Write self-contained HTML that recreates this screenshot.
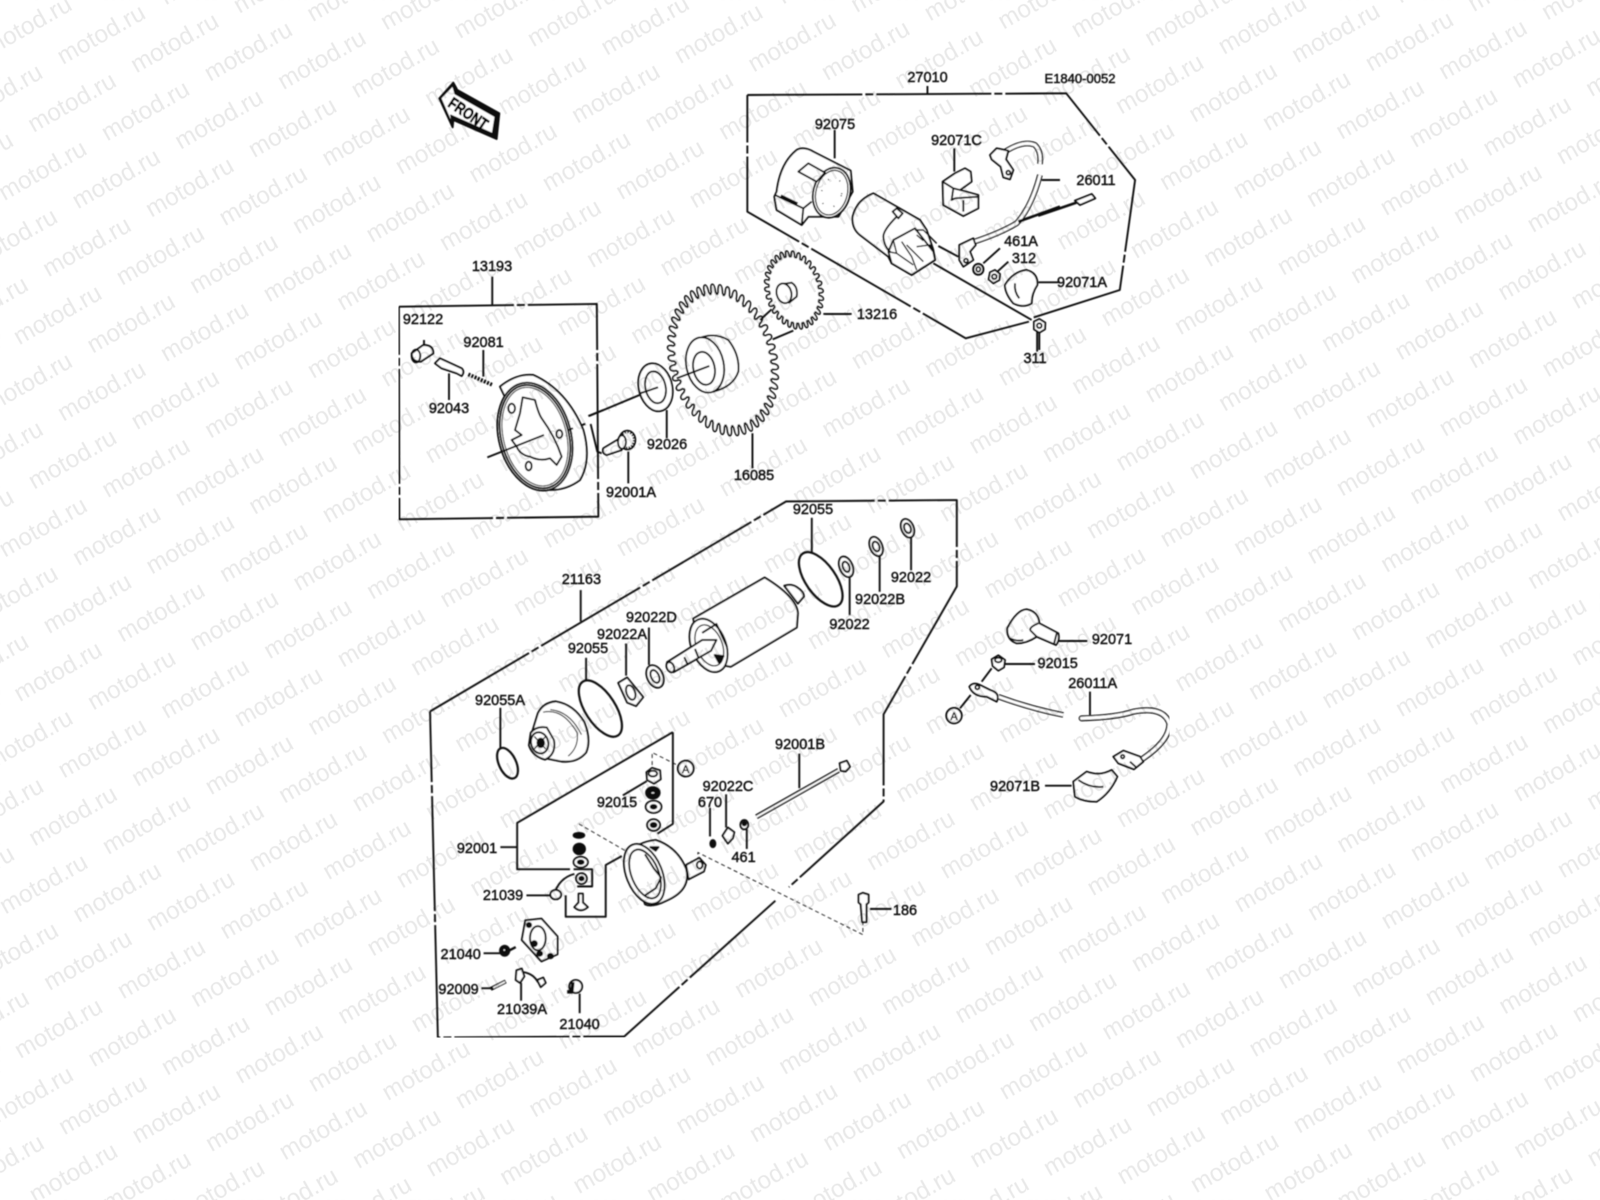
<!DOCTYPE html>
<html><head><meta charset="utf-8"><style>
html,body{margin:0;padding:0;background:#fff;width:1600px;height:1200px;overflow:hidden}
svg{display:block;overflow:hidden}
.g *{vector-effect:non-scaling-stroke}
.g{fill:none;stroke:#111;stroke-width:1.9;stroke-linejoin:round}
.f{fill:#fff}
.k{fill:#111}
.d{stroke-dasharray:115 3 8 3;stroke-width:1.9}
.t{stroke-dasharray:4 3;stroke-width:.9}
.lab text{font-family:"Liberation Sans",sans-serif;font-size:14.5px;fill:#111;stroke:#111;stroke-width:.45;text-anchor:middle}
#w{font-family:"Liberation Sans",sans-serif;font-size:24.5px;fill:#000}
</style></head><body>
<svg width="1600" height="1200" viewBox="0 0 1600 1200" xmlns="http://www.w3.org/2000/svg">
<rect width="1600" height="1200" fill="#fff"/>
<defs>
<filter id="b" x="0" y="0" width="1" height="1" filterUnits="objectBoundingBox"><feGaussianBlur stdDeviation=".4"/></filter>
<text id="w" transform="translate(63 65) rotate(-29.5)">motod.ru</text>
<g id="a"><use href="#w"/><use href="#w" transform="translate(73.5 8.4)"/><use href="#w" transform="translate(147 16.8)"/><use href="#w" transform="translate(220.5 25.2)"/><use href="#w" transform="translate(294 33.6)"/></g>
<g id="r"><use href="#a" transform="translate(-588 -67.2)"/><use href="#a" transform="translate(-220.5 -25.2)"/><use href="#a" transform="translate(147 16.8)"/><use href="#a" transform="translate(514.5 58.8)"/><use href="#a" transform="translate(882 100.8)"/><use href="#a" transform="translate(1249.5 142.8)"/><use href="#a" transform="translate(1617 184.8)"/><use href="#a" transform="translate(1984.5 226.8)"/></g>
<pattern id="wm" patternUnits="userSpaceOnUse" x="0" y="0" width="1600" height="1200">
<g opacity=".09">
<use href="#r" transform="translate(146.5 -340)"/><use href="#r" transform="translate(117.2 -272)"/><use href="#r" transform="translate(87.9 -204)"/><use href="#r" transform="translate(58.6 -136)"/><use href="#r" transform="translate(29.3 -68)"/><use href="#r"/>
<use href="#r" transform="translate(-29.3 68)"/><use href="#r" transform="translate(-58.6 136)"/><use href="#r" transform="translate(-87.9 204)"/><use href="#r" transform="translate(-117.2 272)"/><use href="#r" transform="translate(-146.5 340)"/><use href="#r" transform="translate(-175.8 408)"/>
<use href="#r" transform="translate(-205.1 476)"/><use href="#r" transform="translate(-234.4 544)"/><use href="#r" transform="translate(-263.7 612)"/><use href="#r" transform="translate(-293 680)"/><use href="#r" transform="translate(-322.3 748)"/><use href="#r" transform="translate(-351.6 816)"/>
<use href="#r" transform="translate(-380.9 884)"/><use href="#r" transform="translate(-410.2 952)"/><use href="#r" transform="translate(-439.5 1020)"/><use href="#r" transform="translate(-468.8 1088)"/><use href="#r" transform="translate(-498.1 1156)"/>
</g>
</pattern>
<path id="t1" vector-effect="non-scaling-stroke" fill="#fff" stroke="#111" stroke-width="1.7" d="M92,-6.4 L96,-4 Q107,-4 107,0 Q107,4 96,4 L92,6.4"/>
<g id="t5"><use href="#t1"/><use href="#t1" transform="rotate(8)"/><use href="#t1" transform="rotate(16)"/><use href="#t1" transform="rotate(24)"/><use href="#t1" transform="rotate(32)"/></g>
<path id="t2" vector-effect="non-scaling-stroke" fill="#fff" stroke="#111" stroke-width="1.7" d="M90,-9.4 L93,-6 Q108,-6 108,0 Q108,6 93,6 L90,9.4"/>
<g id="t6"><use href="#t2"/><use href="#t2" transform="rotate(12)"/><use href="#t2" transform="rotate(24)"/><use href="#t2" transform="rotate(36)"/><use href="#t2" transform="rotate(48)"/></g>
</defs>

<g filter="url(#b)">
<!-- FRONT arrow -->
<g class="g" transform="translate(400 70) scale(.3333)">
<path class="k" d="M160,38 L172,60 L298,130 L290,207 L160,150 L158,172 L118,85Z"/>
<path class="f" stroke-width="1" d="M158,48 L165,72 L285,140 L277,190 L152,135 L155,158 L123,85Z"/>
</g>
<text transform="translate(468.3 113.5) rotate(34)" y="5.5" text-anchor="middle" textLength="44" lengthAdjust="spacingAndGlyphs" style="font-family:'Liberation Sans',sans-serif;font-size:16px;font-weight:bold;fill:#000;stroke:#000;stroke-width:.7">FRONT</text>

<!-- box outlines + far leaders -->
<g class="g" transform="translate(380 50) scale(.5102 .3333)">
<path class="d" d="M720,135 L1345,130 L1480,390 L1450,720 L1280,803"/>
<path class="d" d="M1272,815 L1148,865 L720,485 L720,135"/>
<path d="M1073,108 L1073,133"/>
<path class="d" d="M37,770 L425,762 L428,1400 L38,1408 L37,770"/>
<path d="M220,680 L220,768 M562,1080 L562,1165 M730,1150 L730,1255"/>
<path d="M410,1098 L545,1012 M580,985 L612,967"/>
<ellipse class="f" cx="540" cy="1012" rx="33" ry="72" transform="rotate(-6 540 1012)"/>
<ellipse cx="540" cy="1012" rx="20" ry="48" transform="rotate(-6 540 1012)"/>
<path d="M510,1030 L545,1012"/>
</g>

<!-- coil, solenoid, boots -->
<g class="g" transform="translate(760 120) scale(.3333)">
<path d="M224,30 L224,115 M583,85 L583,155 M845,180 L900,180 M720,385 L670,430 M745,425 L712,455 M835,487 L900,487 M535,378 L595,410 M520,430 L815,600 M190,582 L275,582"/>
<path class="f" d="M50,215 Q60,130 110,90 Q130,78 160,95 L272,152 L278,215 L235,290 L180,290 L145,290 L125,315 L50,270 L43,230Z"/>
<ellipse class="f" cx="215" cy="218" rx="55" ry="76" transform="rotate(15 215 218)"/>
<ellipse cx="215" cy="218" rx="47" ry="68" stroke-width="1.2" transform="rotate(15 215 218)"/>
<ellipse cx="215" cy="218" rx="30" ry="46" stroke-width="1.4" stroke-dasharray="1 12" transform="rotate(15 215 218)"/>
<path class="f" d="M115,155 L145,130 L195,158 L170,185Z"/>
<path d="M45,225 L130,265 L125,315 M130,265 L155,245"/>
<path stroke-width="3.4" d="M62,228 L112,252"/>
<path class="f" d="M340,220 Q290,240 278,290 Q275,325 300,345 L385,410 L395,430 L455,465 L525,420 L520,390 L500,330 L480,300Z"/>
<path class="f" d="M385,395 L400,360 L465,325 L520,395 L525,420 L455,465 L395,430Z"/>
<path stroke-width="1.4" d="M400,360 L410,400 L385,395 M425,365 L455,410 L470,450 M440,375 L490,425 M470,380 L510,375 L520,395 M465,330 L490,330 L530,370 M470,345 L490,362 M410,400 L460,435"/>
<path d="M410,290 Q370,330 370,350 Q372,380 392,397"/>
<path class="f" d="M398,275 L410,265 L428,280 L415,295Z"/>
<path stroke-width="5.6" d="M640,366 Q720,340 770,310 Q815,260 840,165"/>
<path stroke="#fff" stroke-width="3" d="M640,366 Q720,340 770,310 Q815,260 840,165"/>
<path stroke-width="2.6" d="M775,305 L900,260"/>
<path class="f" d="M598,375 L640,355 L647,375 L630,395 L640,420 L610,440 L598,420Z"/>
<circle cx="618" cy="422" r="6"/>
<path stroke-width="5.6" d="M735,95 Q790,60 825,75 Q845,95 840,132"/>
<path stroke="#fff" stroke-width="3" d="M735,95 Q790,60 825,75 Q845,95 840,132"/>
<path class="f" d="M690,105 L710,85 L745,92 L738,118 L760,150 L750,178 L730,172 L722,140 L695,118Z"/>
<circle cx="745" cy="158" r="6"/>
<path class="f" d="M548,185 L585,160 L615,145 L632,155 L635,185 L600,210 L655,225 L655,265 L610,288 L550,255Z"/>
<path d="M548,185 L580,205 L600,210 M585,235 L655,230 M610,240 L610,275 M580,205 L575,240 L585,235"/>
<ellipse class="f" cx="655" cy="448" rx="15" ry="16" stroke-width="2.2"/><ellipse cx="655" cy="448" rx="6" ry="7"/>
<path class="f" d="M690,457 L705,450 L720,462 L718,480 L700,490 L686,478Z"/><circle cx="703" cy="470" r="7"/>
<path class="f" d="M735,495 Q760,455 800,450 Q835,460 832,495 Q815,520 815,550 Q790,565 760,550 Q735,520 735,495Z"/>
<path d="M765,490 Q762,515 778,535"/>
<path class="f" d="M822,605 L838,597 L856,608 L855,628 L838,638 L822,628Z"/><circle cx="838" cy="617" r="7"/>
<path d="M838,638 L838,690"/>
</g>
<g class="g" transform="translate(380 50) scale(.5102 .3333)">
<path d="M1288,845 L1288,905"/>
<path stroke-width="2.6" d="M1290,497 L1365,458"/>
<path class="f" d="M1362,452 L1395,432 L1402,445 L1372,465Z"/>
</g>

<!-- gears -->
<g transform="translate(723 360) rotate(-15) scale(.5 .72)">
<ellipse rx="94" ry="94" fill="#fff"/>
<use href="#t5"/><use href="#t5" transform="rotate(40)"/><use href="#t5" transform="rotate(80)"/><use href="#t5" transform="rotate(120)"/><use href="#t5" transform="rotate(160)"/><use href="#t5" transform="rotate(200)"/><use href="#t5" transform="rotate(240)"/><use href="#t5" transform="rotate(280)"/><use href="#t5" transform="rotate(320)"/>
</g>
<g transform="translate(794 290) rotate(-15) scale(.264 .368)">
<ellipse rx="92" ry="92" fill="#fff"/>
<use href="#t6"/><use href="#t6" transform="rotate(60)"/><use href="#t6" transform="rotate(120)"/><use href="#t6" transform="rotate(180)"/><use href="#t6" transform="rotate(240)"/><use href="#t6" transform="rotate(300)"/>
</g>
<g class="g" transform="translate(650 240) scale(.3333)">
<path class="f" d="M145,296 Q190,275 235,300 Q270,345 265,395 Q250,440 190,455 Z"/>
<ellipse class="f" cx="165" cy="375" rx="56" ry="84" transform="rotate(-12 165 375)"/>
<ellipse class="f" cx="162" cy="385" rx="32" ry="50" transform="rotate(-12 162 385)"/>
<path d="M80,415 L178,378 M330,240 L365,208 M368,298 L430,272"/>
<path class="f" d="M400,132 L425,128 Q445,140 440,170 L418,188 Q385,170 400,132Z"/>
<ellipse class="f" cx="402" cy="160" rx="22" ry="30" transform="rotate(-15 402 160)"/>
<path d="M525,222 L600,222"/>
</g>

<!-- clutch -->
<g class="g" transform="translate(400 340) scale(.3333)">
<path d="M147,100 L147,180 M250,30 L250,110 M72,0 L72,15 M685,335 L685,430"/>
<path class="f" d="M35,40 L70,15 Q100,15 100,40 L62,65 Q35,65 35,40Z"/>
<ellipse cx="48" cy="48" rx="13" ry="19"/>
<path class="f" d="M105,70 L120,55 L185,85 Q195,95 185,108 L170,100 L125,85Z"/>
<path stroke-width="3.8" stroke-dasharray="2 1.4" d="M205,103 L278,135"/>
<path class="f" d="M300,140 Q350,100 400,105 Q500,150 550,270 Q575,360 540,420 Q500,450 450,450Z"/>
<ellipse class="f" cx="405" cy="290" rx="108" ry="165" transform="rotate(-15 405 290)"/>
<ellipse cx="405" cy="290" rx="101" ry="158" transform="rotate(-15 405 290)"/>
<ellipse cx="405" cy="290" rx="94" ry="151" stroke-width="1" transform="rotate(-15 405 290)"/>
<path class="f" d="M368,172 L405,180 Q415,220 425,235 Q465,290 485,350 L470,375 L450,355 Q420,365 390,350 Q360,345 350,320 L335,300 L365,285 L345,270 L360,220Z"/>
<ellipse cx="335" cy="205" rx="10" ry="14"/>
<ellipse cx="478" cy="282" rx="9" ry="12"/>
<ellipse cx="386" cy="378" rx="9" ry="13"/>
<path d="M262,352 L432,285 M565,228 L610,210 M572,252 L592,335 L605,340"/>
<path stroke-dasharray="5 8" d="M505,270 L560,250"/>
<path class="f" d="M610,325 L655,298 L665,330 L620,345 Q605,340 610,325Z"/>
<ellipse class="f" cx="682" cy="300" rx="24" ry="28"/>
<ellipse cx="682" cy="300" rx="21" ry="25" stroke-width="3" stroke-dasharray="1.6 1.4"/>
<ellipse class="f" cx="666" cy="306" rx="12" ry="20"/>
</g>

<!-- lower region -->
<g class="g" transform="translate(420 490) scale(.35714)">
<path class="d" d="M28,620 L1025,32 L1503,28 L1503,270 L1298,628 L1298,872 L1033,1112"/>
<path class="d" d="M995,1150 L572,1530 L50,1533 L28,620"/>
<path d="M450,280 L450,368 M708,678 L272,932 L272,1062 L420,1062 M272,1000 L225,1000 M708,678 L708,935 L665,962 M430,1062 L482,1062 L482,1110 L440,1110 M408,1135 L408,1195 L520,1195 L520,1050 L565,1025 M568,855 L635,815"/>
<path d="M225,610 L225,722 M465,470 L465,535 M577,430 L577,520 M641,385 L641,490 M1097,78 L1097,175 M1203,245 L1203,350 M1287,185 L1287,285 M1375,130 L1375,225 M1062,738 L1062,835 M857,852 L857,945 M812,890 L812,970 M915,950 L915,1005 M1260,1173 L1320,1173 M298,1135 L365,1135 M178,1297 L225,1297 M172,1395 L198,1395 M283,1380 L283,1430 M447,1410 L447,1465"/>
<path class="t" d="M650,770 L650,735 L720,770 M445,935 L575,1010"/>
<path class="t" d="M778,1040 L778,1015 L1240,1245 L1240,1212"/>
<!-- armature -->
<path class="f" d="M1020,268 Q1040,262 1055,272 Q1075,285 1075,298 L1058,318 Z"/>
<path class="f" d="M765,360 L965,245 Q1055,300 1058,345 L1055,385 L870,495 L790,480 Z"/>
<ellipse class="f" cx="808" cy="435" rx="48" ry="78" transform="rotate(-22 808 435)"/>
<ellipse cx="810" cy="435" rx="36" ry="60" stroke-width="1.2" transform="rotate(-22 810 435)"/>
<path class="f" d="M692,482 L790,420 L830,420 L815,450 L710,510 Q690,505 692,482Z"/>
<ellipse class="f" cx="701" cy="496" rx="10" ry="15" transform="rotate(-25 701 496)"/>
<path d="M740,468 L750,490 M770,445 L780,470 M790,400 L830,375 L860,440"/>
<path class="k" d="M825,462 L850,465 L838,485Z"/>
<!-- rings -->
<ellipse cx="1122" cy="250" rx="42" ry="88" stroke-width="2.2" transform="rotate(-35 1122 250)"/>
<ellipse class="f" cx="1193" cy="215" rx="18" ry="30" transform="rotate(-22 1193 215)"/><ellipse cx="1193" cy="215" rx="9" ry="15" stroke-width="2" transform="rotate(-22 1193 215)"/>
<ellipse class="f" cx="1277" cy="158" rx="17" ry="28" transform="rotate(-22 1277 158)"/><ellipse cx="1277" cy="158" rx="9" ry="14" stroke-width="2" transform="rotate(-22 1277 158)"/>
<ellipse class="f" cx="1365" cy="107" rx="17" ry="27" transform="rotate(-22 1365 107)"/><ellipse cx="1365" cy="107" rx="9" ry="14" stroke-width="2" transform="rotate(-22 1365 107)"/>
<ellipse cx="505" cy="612" rx="42" ry="90" stroke-width="2.2" transform="rotate(-33 505 612)"/>
<ellipse cx="245" cy="765" rx="24" ry="46" stroke-width="2.2" transform="rotate(-25 245 765)"/>
<ellipse class="f" cx="658" cy="522" rx="22" ry="33" transform="rotate(-25 658 522)"/><ellipse cx="658" cy="522" rx="11" ry="19" transform="rotate(-25 658 522)"/>
<path class="f" d="M555,540 L580,525 L625,580 L605,605 L580,595Z"/>
<ellipse cx="590" cy="567" rx="12" ry="21" transform="rotate(-20 590 567)"/>
<!-- end cap -->
<path class="f" d="M330,625 Q345,595 380,592 Q430,600 460,650 Q480,700 465,735 Q440,765 395,760 L345,750 L310,690Z"/>
<path stroke-width="1" d="M345,622 Q400,610 440,680 Q445,720 415,745 M365,615 Q420,620 452,685"/>
<path class="f" d="M310,680 Q325,660 355,665 L375,700 Q382,740 350,755 Q315,745 305,715Z"/>
<ellipse class="f" cx="335" cy="708" rx="24" ry="30" transform="rotate(-15 335 708)"/>
<ellipse class="k" cx="338" cy="708" rx="9" ry="12"/>
<path stroke-width="1.2" d="M320,690 L352,725 M352,690 L320,725"/>
<!-- washers stack -->
<path class="f" d="M634,790 L650,778 L672,785 L674,810 L655,822 L636,812Z"/>
<ellipse cx="652" cy="794" rx="12" ry="8"/>
<ellipse class="k" cx="652" cy="848" rx="19" ry="16"/><ellipse fill="#fff" cx="652" cy="848" rx="7" ry="5"/>
<ellipse class="f" cx="654" cy="887" rx="22" ry="17"/><ellipse class="k" cx="654" cy="887" rx="8" ry="5"/>
<ellipse class="f" cx="654" cy="938" rx="18" ry="16"/><ellipse class="k" cx="654" cy="938" rx="8" ry="6"/>
<ellipse class="k" cx="445" cy="967" rx="15" ry="7"/>
<ellipse class="k" cx="446" cy="1005" rx="16" ry="15"/>
<ellipse class="f" cx="450" cy="1042" rx="20" ry="15"/><ellipse class="k" cx="450" cy="1042" rx="8" ry="5"/>
<ellipse class="f" cx="452" cy="1088" rx="15" ry="15"/><ellipse class="k" cx="452" cy="1088" rx="6" ry="5"/>
<path d="M380,1120 Q395,1085 432,1075"/>
<ellipse class="f" cx="380" cy="1133" rx="15" ry="13"/>
<path class="f" d="M444,1130 L456,1130 L456,1155 L470,1168 Q450,1185 432,1168 L444,1155Z"/>
<!-- cup -->
<path class="f" d="M580,1020 Q610,985 660,980 Q720,1000 745,1060 Q760,1120 690,1150 Q650,1170 630,1160Z"/>
<ellipse class="f" cx="628" cy="1075" rx="50" ry="88" transform="rotate(-22 628 1075)"/>
<ellipse cx="630" cy="1075" rx="38" ry="72" stroke-width="1.8" transform="rotate(-22 630 1075)"/>
<path d="M630,1020 L655,1060 L675,1085 L660,1115 L630,1135"/>
<path class="f" d="M745,1050 L782,1030 L800,1050 L795,1068 L752,1090Z"/>
<ellipse cx="783" cy="1050" rx="8" ry="10"/>
<path class="k" d="M645,1000 L668,1000 L660,1010Z"/>
<!-- bolt 92001B -->
<path stroke-width="5" d="M942,915 L1172,785"/>
<path stroke="#fff" stroke-width="2" d="M942,915 L1172,785"/>
<path class="f" d="M1175,765 L1195,758 L1204,775 L1192,788 L1178,786Z"/>
<path class="f" d="M847,968 L862,945 L880,958 L876,975 L862,990Z"/>
<ellipse class="k" cx="820" cy="990" rx="7" ry="10"/>
<ellipse class="f" cx="908" cy="937" rx="11" ry="13"/><ellipse class="k" cx="908" cy="934" rx="5" ry="5"/>
<!-- 186 -->
<path class="f" d="M1228,1133 L1240,1128 L1256,1133 L1256,1155 L1250,1160 L1250,1210 L1238,1210 L1234,1160 L1228,1155Z"/>
<!-- small parts -->
<path class="f" d="M295,1205 L340,1200 L385,1250 L385,1300 L340,1320 L285,1260 Z"/>
<ellipse class="f" cx="330" cy="1255" rx="22" ry="34"/>
<ellipse class="k" cx="320" cy="1270" rx="7" ry="7"/><ellipse class="k" cx="335" cy="1298" rx="7" ry="6"/><ellipse class="k" cx="305" cy="1218" rx="6" ry="6"/><ellipse class="k" cx="365" cy="1305" rx="7" ry="6"/>
<ellipse class="k" cx="237" cy="1290" rx="13" ry="14"/><ellipse fill="#fff" cx="236" cy="1288" rx="5" ry="5"/>
<path stroke-width="2.4" d="M245,1292 L268,1280"/>
<path class="f" d="M270,1345 L285,1340 L292,1362 L280,1380 L268,1372Z"/>
<path d="M290,1350 Q318,1355 330,1378"/>
<path class="f" d="M328,1372 L345,1365 L352,1380 L338,1392Z"/>
<path stroke-width="4" d="M198,1397 L240,1376"/>
<path stroke="#fff" stroke-width="1.6" d="M205,1394 L238,1377"/>
<ellipse class="f" cx="436" cy="1390" rx="18" ry="18"/>
<path stroke-width="3.5" d="M428,1378 L425,1405 L412,1405"/>
<circle class="f" cx="744" cy="780" r="22" stroke-width="2"/>
</g>

<!-- right parts -->
<g class="g" transform="translate(930 580) scale(.3333)">
<path class="f" d="M232,145 Q260,90 290,88 Q325,95 328,130 L385,160 Q390,180 378,195 L320,170 Q290,190 260,190 Q230,180 232,145Z"/>
<path d="M300,150 L320,170 M325,130 Q300,140 300,150 M240,175 Q260,185 280,180 M380,160 L372,192"/>
<path d="M385,183 L472,183 M225,252 L315,252 M90,385 L122,345 M155,305 L185,265 M480,335 L480,405 M345,617 L425,617"/>
<path class="f" d="M185,238 L205,226 L225,240 L222,262 L205,272 L188,258Z"/>
<ellipse cx="205" cy="240" rx="10" ry="7"/>
<path stroke-width="5.5" d="M205,350 Q300,385 400,405"/>
<path stroke="#fff" stroke-width="2.8" d="M205,350 Q300,385 400,405"/>
<path class="f" d="M118,320 Q130,305 150,315 L180,330 Q212,340 200,365 L170,350 Q130,350 118,320Z"/>
<circle cx="142" cy="322" r="6"/>
<path stroke-width="6" stroke-linecap="round" d="M455,415 Q560,412 610,395 Q700,378 718,430 Q720,480 640,535"/>
<path stroke="#fff" stroke-width="3.2" stroke-linecap="round" d="M455,415 Q560,412 610,395 Q700,378 718,430 Q720,480 640,535"/>
<path class="f" d="M550,530 L580,512 L630,530 L640,545 L612,568 L565,550Z"/>
<circle cx="578" cy="530" r="5"/>
<path d="M600,545 L620,563"/>
<path class="f" d="M430,605 L470,575 Q510,590 545,570 L562,590 Q540,640 500,665 Q460,665 435,650Z"/>
<path d="M445,600 Q480,625 520,620"/>
<circle class="f" cx="72" cy="407" r="23" stroke-width="2"/>
</g>

<!-- labels -->
<g class="lab">
<text x="927.5" y="82">27010</text>
<text x="1080" y="83" textLength="71" style="font-size:12.5px" lengthAdjust="spacingAndGlyphs">E1840-0052</text>
<text x="835" y="129">92075</text><text x="956.5" y="145">92071C</text><text x="1096" y="185">26011</text>
<text x="1021" y="246">461A</text><text x="1024" y="263">312</text><text x="1082" y="287">92071A</text>
<text x="877" y="319">13216</text><text x="1035" y="363">311</text><text x="492" y="271">13193</text>
<text x="423" y="324">92122</text><text x="483.6" y="347">92081</text><text x="449" y="413">92043</text>
<text x="667" y="449">92026</text><text x="754" y="480">16085</text><text x="631" y="497">92001A</text>
<text x="813" y="514">92055</text><text x="911" y="582">92022</text><text x="880" y="604">92022B</text>
<text x="849.6" y="629">92022</text><text x="581.4" y="584">21163</text><text x="651.4" y="622">92022D</text>
<text x="622" y="639">92022A</text><text x="588" y="653">92055</text><text x="500" y="705">92055A</text>
<text x="800" y="749">92001B</text><text x="728" y="791">92022C</text><text x="710" y="807">670</text>
<text x="617" y="807">92015</text><text x="743.6" y="862">461</text><text x="477" y="853">92001</text>
<text x="503" y="900">21039</text><text x="905" y="915">186</text><text x="460.7" y="959">21040</text>
<text x="458.6" y="994">92009</text><text x="522" y="1014">21039A</text><text x="579.6" y="1029">21040</text>
<text x="1112" y="644">92071</text><text x="1057.7" y="668">92015</text><text x="1092.7" y="688">26011A</text><text x="1015" y="791">92071B</text>
<text x="685.7" y="773" style="font-size:11px">A</text><text x="954" y="720" style="font-size:11px">A</text>
</g>
</g>

<!-- watermark -->
<rect x="0" y="0" width="1600" height="1200" fill="url(#wm)"/>
</svg>
</body></html>
